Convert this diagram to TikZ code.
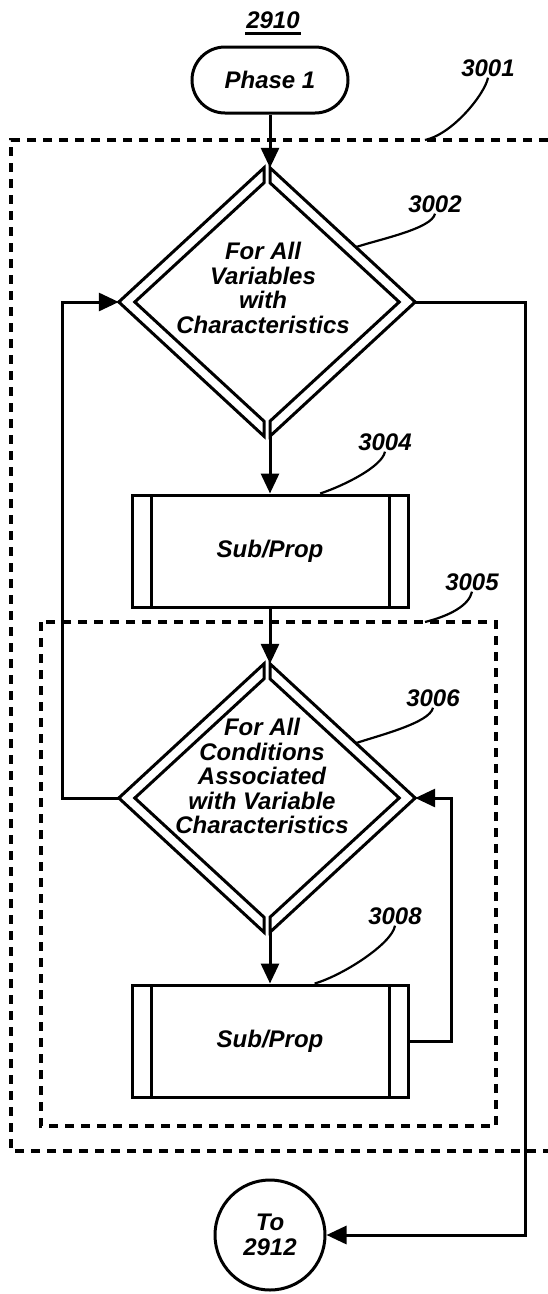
\documentclass[tikz,border=0pt]{standalone}
\usepackage{fontspec}
\setmainfont{Liberation Sans}
\usetikzlibrary{arrows.meta,calc,shapes.geometric}

\newcommand{\figfont}{\fontsize{24}{24.5}\selectfont\bfseries\itshape}
% double border of a decision node, split at top and bottom
\newcommand{\dblborder}[1]{%
  \draw[edge] ($(#1.north)+(-3,3)$) -- (#1.west) -- ($(#1.south)+(-3,-3)$)
    -- ($(#1.south)+(-3,-18)$) -- ($(#1.west)+(16,0)$) -- ($(#1.north)+(-3,18)$) -- cycle;
  \draw[edge] ($(#1.north)+(3,3)$) -- (#1.east) -- ($(#1.south)+(3,-3)$)
    -- ($(#1.south)+(3,-18)$) -- ($(#1.east)+(-16,0)$) -- ($(#1.north)+(3,18)$) -- cycle;}

\begin{document}
\begin{tikzpicture}[x=1pt, y=-1pt, every node/.style={font=\figfont}]
\tikzset{
  edge/.style={line width=3pt},
  arr/.style={line width=3pt, -{Triangle[length=20pt,width=18pt]}},
  dashbox/.style={line width=3.2pt, dash pattern=on 9pt off 7pt},
  lead/.style={line width=2.2pt},
  term/.style={draw, line width=3pt, rounded corners=33pt, minimum width=156pt, minimum height=66pt},
  dia/.style={diamond, minimum width=296pt, minimum height=274pt, inner sep=0pt},
  txt/.style={align=center, inner sep=0pt},
  subprop/.style={draw, line width=3pt, minimum width=276pt, minimum height=112pt,
    path picture={
      \draw[line width=3pt] ([xshift=19pt]path picture bounding box.north west) -- ([xshift=19pt]path picture bounding box.south west);
      \draw[line width=3pt] ([xshift=-19pt]path picture bounding box.north east) -- ([xshift=-19pt]path picture bounding box.south east);}},
  conn/.style={circle, draw, line width=3pt, minimum size=110pt, align=center, inner sep=0pt},
  num/.style={inner sep=1pt}
}
\useasboundingbox (0,0) rectangle (548,1294);

% --- start ---
\node[num] (fig) at (273,20) {2910};
\draw[edge] ([yshift=-4pt]fig.south west) -- ([yshift=-4pt]fig.south east);
\node[term] (term) at (270,80) {Phase 1};

% --- group 3001 ---
\draw[dashbox] (548,140) -- (11,140) -- (11,1151) -- (548,1151);
\coordinate (g1) at (425,140);
\node[num] (l3001) at (488,68) {3001};
\draw[lead] (l3001.south) .. controls +(-3,16) and +(28,-6) .. (g1);

% --- first decision ---
\node[dia] (d1) at (267,302) {};
\dblborder{d1}
\node[txt] (d1t) at (263,288) {For All\\Variables\\with\\Characteristics};
\node[num] (l3002) at (435,204) {3002};
\draw[lead] (l3002.south) .. controls +(-3,15) and +(24,-8) .. ($(d1.north)!0.6!(d1.east)$);

\node[subprop] (b1) at (270,551) {Sub/Prop};
\node[num] (l3004) at (385,442) {3004};
\draw[lead] (l3004.south) .. controls +(-3,15) and +(24,-8) .. ($(b1.north west)!0.68!(b1.north east)$);

% --- group 3005 ---
\draw[dashbox] (41,622) rectangle (496,1126);
\coordinate (g2) at (425,622);
\node[num] (l3005) at (472,582) {3005};
\draw[lead] (l3005.south) .. controls +(-3,14) and +(24,-6) .. (g2);

\node[dia] (d2) at (267,798) {};
\dblborder{d2}
\node[txt] (d2t) at (262,776) {For All\\Conditions\\Associated\\with Variable\\Characteristics};
\node[num] (l3006) at (433,698) {3006};
\draw[lead] (l3006.south) .. controls +(-3,15) and +(24,-8) .. ($(d2.north)!0.6!(d2.east)$);

\node[subprop] (b2) at (270,1041) {Sub/Prop};
\node[num] (l3008) at (395,916) {3008};
\draw[lead] (l3008.south) .. controls +(-3,18) and +(28,-8) .. ($(b2.north west)!0.66!(b2.north east)$);

% --- exit ---
\node[conn] (endc) at (270,1235) {To\\2912};

% --- connectors ---
\draw[arr] (term.south) -- ($(d1.north)+(3,3)$);
\draw[arr] ($(d1.south)+(3,-3)$) -- (b1.north);
\draw[arr] (b1.south) -- ($(d2.north)+(3,3)$);
\draw[arr] ($(d2.south)+(3,-3)$) -- (b2.north);
\draw[arr] (b2.east) -- ++(42,0) |- (d2.east);
\draw[arr] (d2.west) -- ++(-56,0) |- (d1.west);
\draw[arr] (d1.east) -- ++(110,0) |- (endc.east);
\end{tikzpicture}
\end{document}
